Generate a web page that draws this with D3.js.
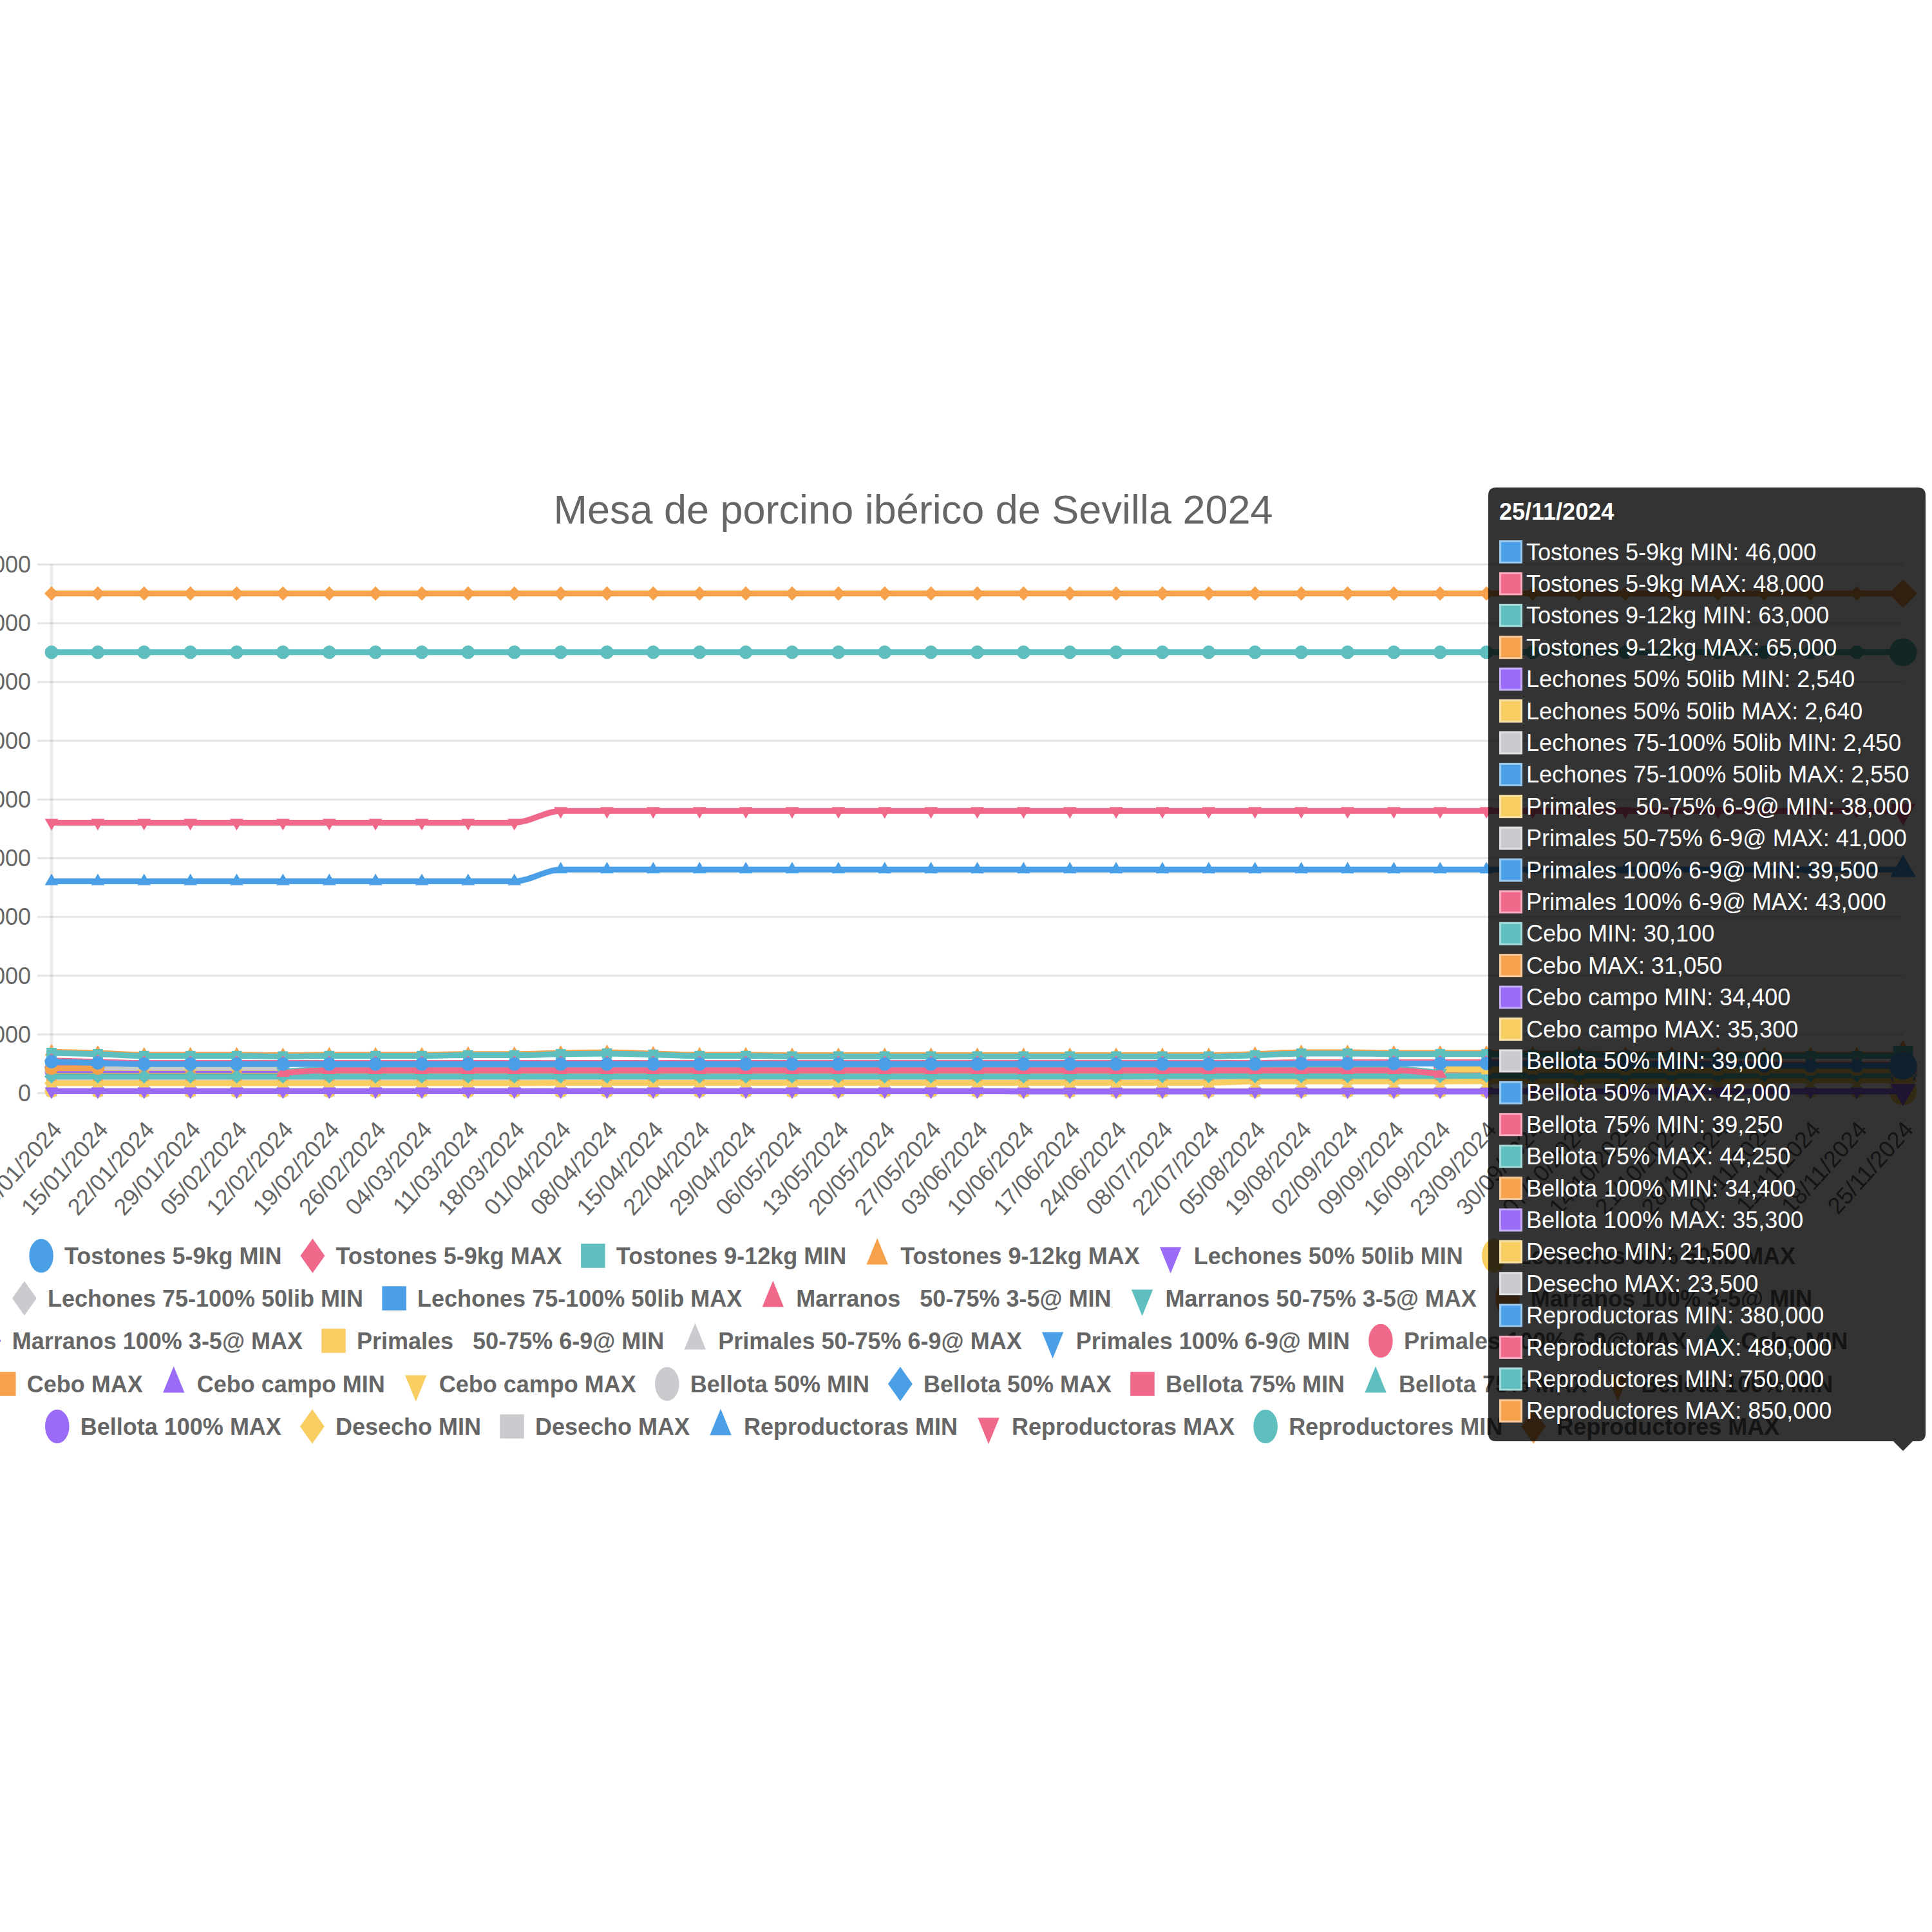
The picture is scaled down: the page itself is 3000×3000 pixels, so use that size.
<!DOCTYPE html>
<html>
<head>
<meta charset="utf-8">
<script src="https://cdn.jsdelivr.net/npm/d3@7"></script>
<style>
  html, body { margin: 0; padding: 0; background: #fff; }
  svg { display: block; font-family: "Liberation Sans", Arial, Helvetica, sans-serif; }
</style>
</head>
<body>
<div id="chart"></div>
<script>
const chartTitle = 'Mesa de porcino ibérico de Sevilla 2024';

const dates = [
  '08/01/2024', '15/01/2024', '22/01/2024', '29/01/2024', '05/02/2024', '12/02/2024', '19/02/2024', '26/02/2024',
  '04/03/2024', '11/03/2024', '18/03/2024', '01/04/2024', '08/04/2024', '15/04/2024', '22/04/2024', '29/04/2024',
  '06/05/2024', '13/05/2024', '20/05/2024', '27/05/2024', '03/06/2024', '10/06/2024', '17/06/2024', '24/06/2024',
  '08/07/2024', '22/07/2024', '05/08/2024', '19/08/2024', '02/09/2024', '09/09/2024', '16/09/2024', '23/09/2024',
  '30/09/2024', '07/10/2024', '14/10/2024', '21/10/2024', '28/10/2024', '04/11/2024', '11/11/2024', '18/11/2024',
  '25/11/2024'
];

const seriesNames = [
  'Tostones 5-9kg MIN', 'Tostones 5-9kg MAX', 'Tostones 9-12kg MIN', 'Tostones 9-12kg MAX',
  'Lechones 50% 50lib MIN', 'Lechones 50% 50lib MAX', 'Lechones 75-100% 50lib MIN', 'Lechones 75-100% 50lib MAX',
  'Marranos   50-75% 3-5@ MIN', 'Marranos 50-75% 3-5@ MAX', 'Marranos 100% 3-5@ MIN', 'Marranos 100% 3-5@ MAX',
  'Primales   50-75% 6-9@ MIN', 'Primales 50-75% 6-9@ MAX', 'Primales 100% 6-9@ MIN', 'Primales 100% 6-9@ MAX',
  'Cebo MIN', 'Cebo MAX', 'Cebo campo MIN', 'Cebo campo MAX',
  'Bellota 50% MIN', 'Bellota 50% MAX', 'Bellota 75% MIN', 'Bellota 75% MAX', 'Bellota 100% MIN', 'Bellota 100% MAX',
  'Desecho MIN', 'Desecho MAX', 'Reproductoras MIN', 'Reproductoras MAX', 'Reproductores MIN', 'Reproductores MAX'
];

// chart.js default palette, cycled per dataset
const palette = ['#4a9fe6', '#f0698a', '#5fbebe', '#f6a14b', '#9a6bf7', '#f8cd62', '#c9cbcf'];
const pointShapes = ['circle', 'rectRot', 'rect', 'triangle', 'triangleDown'];

const yTicks = [0, 100000, 200000, 300000, 400000, 500000, 600000, 700000, 800000, 900000];
const legendRowSizes = [6, 5, 6, 8, 7];

// values per series, one per date (null = no quote)
const tostones59Min = [
  53000, 51000, 49000, 49000, 49000, 49000, 49000, 49000, 49000, 49000,
  49000, 49000, 49000, 49000, 49000, 49000, 49000, 49000, 49000, 49000,
  49000, 49000, 49000, 49000, 49000, 49000, 49000, 50000, 50000, 50000,
  50000, 50000, 49000, 49000, 48000, 48000, 48000, 46000, 46000, 46000,
  46000];
const tostones59Max = [
  55000, 53000, 51000, 51000, 51000, 51000, 51000, 51000, 51000, 51000,
  51000, 51000, 51000, 51000, 51000, 51000, 51000, 51000, 51000, 51000,
  51000, 51000, 51000, 51000, 51000, 51000, 51000, 52000, 52000, 52000,
  52000, 52000, 51000, 51000, 50000, 50000, 50000, 48000, 48000, 48000,
  48000];
const tostones912Min = [
  68000, 66000, 63000, 63000, 63000, 62000, 63000, 63000, 63000, 64000,
  64000, 66000, 67000, 65000, 63000, 63000, 62000, 62000, 62000, 62000,
  62000, 62000, 62000, 62000, 62000, 62000, 64000, 67000, 67000, 66000,
  66000, 66000, 65000, 65000, 64000, 64000, 64000, 63000, 63000, 63000,
  63000];
const tostones912Max = [
  70000, 68000, 65000, 65000, 65000, 64000, 65000, 65000, 65000, 66000,
  66000, 68000, 69000, 67000, 65000, 65000, 64000, 64000, 64000, 64000,
  64000, 64000, 64000, 64000, 64000, 64000, 66000, 69000, 69000, 68000,
  68000, 68000, 67000, 67000, 66000, 66000, 66000, 65000, 65000, 65000,
  65000];
const lechones50Min = [
  2800, 2800, 2800, 2800, 2800, 2800, 2800, 2800, 2800, 2800,
  2800, 2700, 2700, 2700, 2700, 2700, 2700, 2700, 2700, 2700,
  2700, 2600, 2600, 2600, 2600, 2600, 2600, 2600, 2600, 2600,
  2600, 2600, 2600, 2540, 2540, 2540, 2540, 2540, 2540, 2540,
  2540];
const lechones50Max = [
  2900, 2900, 2900, 2900, 2900, 2900, 2900, 2900, 2900, 2900,
  2900, 2800, 2800, 2800, 2800, 2800, 2800, 2800, 2800, 2800,
  2800, 2700, 2700, 2700, 2700, 2700, 2700, 2700, 2700, 2700,
  2700, 2700, 2700, 2640, 2640, 2640, 2640, 2640, 2640, 2640,
  2640];
const lechones75Min = [
  2700, 2700, 2700, 2700, 2700, 2700, 2700, 2700, 2700, 2700,
  2700, 2600, 2600, 2600, 2600, 2600, 2600, 2600, 2600, 2600,
  2600, 2500, 2500, 2500, 2500, 2500, 2500, 2500, 2500, 2500,
  2500, 2500, 2500, 2450, 2450, 2450, 2450, 2450, 2450, 2450,
  2450];
const lechones75Max = [
  2800, 2800, 2800, 2800, 2800, 2800, 2800, 2800, 2800, 2800,
  2800, 2700, 2700, 2700, 2700, 2700, 2700, 2700, 2700, 2700,
  2700, 2600, 2600, 2600, 2600, 2600, 2600, 2600, 2600, 2600,
  2600, 2600, 2600, 2550, 2550, 2550, 2550, 2550, 2550, 2550,
  2550];
const marranos5075Min = [
  null, null, null, null, null, 34000, 38500, 38500, 38500, 38500,
  38500, 38500, 38500, 38500, 38500, 38500, 38500, 38500, 38500, 38500,
  38500, 38500, 38500, 38500, 38500, 38500, 38500, 38500, 38500, 38500,
  32000, null, null, null, null, null, null, null, null, null,
  null];
const marranos5075Max = [
  null, null, null, null, null, 36000, 40500, 40500, 40500, 40500,
  40500, 40500, 40500, 40500, 40500, 40500, 40500, 40500, 40500, 40500,
  40500, 40500, 40500, 40500, 40500, 40500, 40500, 40500, 40500, 40500,
  34000, null, null, null, null, null, null, null, null, null,
  null];
const marranos100Min = [
  42000, 42000, null, null, null, null, null, null, null, null,
  null, null, null, null, null, null, null, null, null, null,
  null, null, null, null, null, null, null, null, null, null,
  null, null, null, null, null, null, null, null, null, null,
  null];
const marranos100Max = [
  44000, 44000, null, null, null, null, null, null, null, null,
  null, null, null, null, null, null, null, null, null, null,
  null, null, null, null, null, null, null, null, null, null,
  null, null, null, null, null, null, null, null, null, null,
  null];
const primales5075Min = [
  null, null, null, null, null, null, null, null, null, null,
  null, null, null, null, null, null, null, null, null, null,
  null, null, null, null, null, null, null, null, null, null,
  40000, 40000, 40000, 39000, 39000, 39000, 38000, 38000, 38000, 38000,
  38000];
const primales5075Max = [
  null, null, null, null, null, null, null, null, null, null,
  null, null, null, null, null, null, null, null, null, null,
  null, null, null, null, null, null, null, null, null, null,
  43000, 43000, 43000, 42000, 42000, 42000, 41000, 41000, 41000, 41000,
  41000];
const primales100Min = [
  null, null, null, null, null, null, null, null, null, null,
  null, null, null, null, null, null, null, null, null, null,
  null, null, null, null, null, null, null, null, null, null,
  41500, 41500, 41500, 40500, 40500, 40500, 39500, 39500, 39500, 39500,
  39500];
const primales100Max = [
  null, null, null, null, null, null, null, null, null, null,
  null, null, null, null, null, null, null, null, null, null,
  null, null, null, null, null, null, null, null, null, null,
  45000, 45000, 45000, 44000, 44000, 44000, 43000, 43000, 43000, 43000,
  43000];
const ceboMin = [
  28000, 28000, 28000, 28000, 28000, 28000, 28000, 28000, 28000, 28000,
  28000, 28000, 28000, 28000, 28000, 28000, 28000, 28000, 28000, 28000,
  28000, 28000, 28000, 28000, 28500, 28500, 28500, 28500, 28500, 28500,
  28500, 29000, 29000, 29000, 29000, 29000, 29000, 30100, 30100, 30100,
  30100];
const ceboMax = [
  29000, 29000, 29000, 29000, 29000, 29000, 29000, 29000, 29000, 29000,
  29000, 29000, 29000, 29000, 29000, 29000, 29000, 29000, 29000, 29000,
  29000, 29000, 29000, 29000, 29500, 29500, 29500, 29500, 29500, 29500,
  29500, 30000, 30000, 30000, 30000, 30000, 30000, 31050, 31050, 31050,
  31050];
const ceboCampoMin = [
  32500, 32500, 32500, 32500, 32500, 32500, 32500, 32500, 32500, 32500,
  32500, 32500, 32500, 32500, 32500, 32500, 32500, 32500, 32500, 32500,
  32500, 32500, 32500, 32500, 32500, 32500, 32500, 32500, 32500, 32500,
  32500, 33500, 33500, 33500, 33500, 33500, 33500, 34400, 34400, 34400,
  34400];
const ceboCampoMax = [
  33500, 33500, 33500, 33500, 33500, 33500, 33500, 33500, 33500, 33500,
  33500, 33500, 33500, 33500, 33500, 33500, 33500, 33500, 33500, 33500,
  33500, 33500, 33500, 33500, 33500, 33500, 33500, 33500, 33500, 33500,
  33500, 34500, 34500, 34500, 34500, 34500, 34500, 35300, 35300, 35300,
  35300];
const bellota50Min = [
  40000, 40000, 40000, 40000, 40000, 40000, null, null, null, null,
  null, null, null, null, null, null, null, null, null, null,
  null, null, null, null, null, null, null, null, null, null,
  null, null, null, 39000, 39000, 39000, 39000, 39000, 39000, 39000,
  39000];
const bellota50Max = [
  43000, 43000, 43000, 43000, 43000, 43000, null, null, null, null,
  null, null, null, null, null, null, null, null, null, null,
  null, null, null, null, null, null, null, null, null, null,
  null, null, null, 42000, 42000, 42000, 42000, 42000, 42000, 42000,
  42000];
const bellota75Min = [
  40500, 40500, 40500, 40500, 40500, 40500, null, null, null, null,
  null, null, null, null, null, null, null, null, null, null,
  null, null, null, null, null, null, null, null, null, null,
  null, null, null, 39250, 39250, 39250, 39250, 39250, 39250, 39250,
  39250];
const bellota75Max = [
  45000, 45000, 45000, 45000, 45000, 45000, null, null, null, null,
  null, null, null, null, null, null, null, null, null, null,
  null, null, null, null, null, null, null, null, null, null,
  null, null, null, 44250, 44250, 44250, 44250, 44250, 44250, 44250,
  44250];
const bellota100Min = [
  35000, 35000, 35000, 35000, 35000, 35000, null, null, null, null,
  null, null, null, null, null, null, null, null, null, null,
  null, null, null, null, null, null, null, null, null, null,
  null, null, null, 34400, 34400, 34400, 34400, 34400, 34400, 34400,
  34400];
const bellota100Max = [
  36000, 36000, 36000, 36000, 36000, 36000, null, null, null, null,
  null, null, null, null, null, null, null, null, null, null,
  null, null, null, null, null, null, null, null, null, null,
  null, null, null, 35300, 35300, 35300, 35300, 35300, 35300, 35300,
  35300];
const desechoMin = [
  16500, 16500, 16500, 16500, 16500, 16500, 16500, 16500, 16500, 16500,
  16500, 17000, 17000, 17000, 17000, 17000, 17000, 17000, 17000, 17000,
  17000, 17000, 17000, 17000, 17000, 17000, 19500, 19500, 19500, 19500,
  19500, 20000, 20000, 20000, 20000, 20000, 20000, 21500, 21500, 21500,
  21500];
const desechoMax = [
  18500, 18500, 18500, 18500, 18500, 18500, 18500, 18500, 18500, 18500,
  18500, 19000, 19000, 19000, 19000, 19000, 19000, 19000, 19000, 19000,
  19000, 19000, 19000, 19000, 19000, 19000, 21500, 21500, 21500, 21500,
  21500, 22000, 22000, 22000, 22000, 22000, 22000, 23500, 23500, 23500,
  23500];
const reproductorasMin = [
  360000, 360000, 360000, 360000, 360000, 360000, 360000, 360000, 360000, 360000,
  360000, 380000, 380000, 380000, 380000, 380000, 380000, 380000, 380000, 380000,
  380000, 380000, 380000, 380000, 380000, 380000, 380000, 380000, 380000, 380000,
  380000, 380000, 380000, 380000, 380000, 380000, 380000, 380000, 380000, 380000,
  380000];
const reproductorasMax = [
  460000, 460000, 460000, 460000, 460000, 460000, 460000, 460000, 460000, 460000,
  460000, 480000, 480000, 480000, 480000, 480000, 480000, 480000, 480000, 480000,
  480000, 480000, 480000, 480000, 480000, 480000, 480000, 480000, 480000, 480000,
  480000, 480000, 480000, 480000, 480000, 480000, 480000, 480000, 480000, 480000,
  480000];
const reproductoresMin = [
  750000, 750000, 750000, 750000, 750000, 750000, 750000, 750000, 750000, 750000,
  750000, 750000, 750000, 750000, 750000, 750000, 750000, 750000, 750000, 750000,
  750000, 750000, 750000, 750000, 750000, 750000, 750000, 750000, 750000, 750000,
  750000, 750000, 750000, 750000, 750000, 750000, 750000, 750000, 750000, 750000,
  750000];
const reproductoresMax = [
  850000, 850000, 850000, 850000, 850000, 850000, 850000, 850000, 850000, 850000,
  850000, 850000, 850000, 850000, 850000, 850000, 850000, 850000, 850000, 850000,
  850000, 850000, 850000, 850000, 850000, 850000, 850000, 850000, 850000, 850000,
  850000, 850000, 850000, 850000, 850000, 850000, 850000, 850000, 850000, 850000,
  850000];

const seriesValues = [
  tostones59Min, tostones59Max, tostones912Min, tostones912Max,
  lechones50Min, lechones50Max, lechones75Min, lechones75Max,
  marranos5075Min, marranos5075Max, marranos100Min, marranos100Max,
  primales5075Min, primales5075Max, primales100Min, primales100Max,
  ceboMin, ceboMax, ceboCampoMin, ceboCampoMax,
  bellota50Min, bellota50Max, bellota75Min, bellota75Max, bellota100Min, bellota100Max,
  desechoMin, desechoMax, reproductorasMin, reproductorasMax, reproductoresMin, reproductoresMax
];

const hoverIndex = dates.length - 1;

const series = seriesNames.map((name, i) => ({
  name,
  index: i,
  color: palette[i % palette.length],
  shape: pointShapes[i % pointShapes.length],
  values: seriesValues[i]
}));

series.forEach(s => {
  if (s.values.length !== dates.length) console.warn('[chart] length mismatch', s.name, s.values.length);
});

// marker outline, chart.js style: r = vertical radius, hw = half width (legend squeezes it)
function markerPath(shape, r, hw) {
  const w = hw == null ? r : hw;
  const s60 = Math.sin(Math.PI * 2 / 3);
  switch (shape) {
    case 'circle':
      return `M${-w},0A${w},${r} 0 1,0 ${w},0A${w},${r} 0 1,0 ${-w},0Z`;
    case 'rectRot':
      return `M${-w},0L0,${-r}L${w},0L0,${r}Z`;
    case 'rect': {
      const s = r * Math.SQRT1_2;
      const sw = hw == null ? s : hw;
      return `M${-sw},${-s}H${sw}V${s}H${-sw}Z`;
    }
    case 'triangle':
      return `M0,${-r}L${w * s60},${r / 2}L${-w * s60},${r / 2}Z`;
    case 'triangleDown':
      return `M0,${r}L${w * s60},${-r / 2}L${-w * s60},${-r / 2}Z`;
  }
  return '';
}

const svgWidth = 3000;
const svgHeight = 3000;
const plot = { left: 80, right: 2955, top: 876, bottom: 1697 };
const textColor = '#666';
const fontSize = 36;

const svg = d3.select('#chart').append('svg')
  .attr('width', svgWidth)
  .attr('height', svgHeight)
  .attr('viewBox', `0 0 ${svgWidth} ${svgHeight}`);

svg.append('rect').attr('width', svgWidth).attr('height', svgHeight).attr('fill', '#fff');

const xScale = d3.scalePoint().domain(dates).range([plot.left, plot.right]);
const yScale = d3.scaleLinear().domain([0, 900000]).range([plot.bottom, plot.top]);

// title
svg.append('text')
  .attr('x', 1418)
  .attr('y', 813)
  .attr('text-anchor', 'middle')
  .attr('font-size', 63)
  .attr('fill', textColor)
  .text(chartTitle);

// y axis with full-width grid
const tickLen = 22;
const yAxisG = svg.append('g').attr('transform', `translate(${plot.left - tickLen},0)`);
yAxisG.call(
  d3.axisLeft(yScale)
    .tickValues(yTicks)
    .tickFormat(d3.format(','))
    .tickSize(-(plot.right - plot.left + tickLen))
    .tickPadding(10)
);
yAxisG.select('.domain').remove();
yAxisG.selectAll('.tick line').attr('stroke', 'rgba(0,0,0,0.1)').attr('stroke-width', 3);
yAxisG.selectAll('.tick text')
  .attr('font-size', fontSize)
  .attr('font-family', null)
  .attr('fill', textColor)
  .attr('dy', null)
  .attr('dominant-baseline', 'central');

svg.append('line')
  .attr('x1', plot.left).attr('x2', plot.left)
  .attr('y1', plot.top).attr('y2', plot.bottom)
  .attr('stroke', 'rgba(0,0,0,0.08)')
  .attr('stroke-width', 5);

// x axis, rotated labels
const xAxisG = svg.append('g').attr('transform', `translate(0,${plot.bottom})`);
xAxisG.call(d3.axisBottom(xScale).tickSize(0));
xAxisG.select('.domain').remove();
xAxisG.selectAll('.tick text')
  .attr('font-size', fontSize)
  .attr('font-family', null)
  .attr('fill', textColor)
  .attr('x', 0).attr('y', 0).attr('dy', null)
  .attr('text-anchor', 'end')
  .attr('dominant-baseline', 'central')
  .attr('transform', 'translate(8,50) rotate(-48)');

// datasets, drawn last-to-first so the first one sits on top
const lineGen = d3.line()
  .defined(d => d.v != null)
  .x(d => xScale(d.date))
  .y(d => yScale(d.v))
  .curve(d3.curveMonotoneX);

const dataG = svg.append('g');
const seriesG = dataG.selectAll('g.series')
  .data(series.slice().reverse())
  .join('g')
  .attr('class', 'series');

seriesG.append('path')
  .attr('d', s => lineGen(s.values.map((v, i) => ({ v, date: dates[i] }))))
  .attr('fill', 'none')
  .attr('stroke', s => s.color)
  .attr('stroke-width', 9)
  .attr('stroke-linejoin', 'round');

seriesG.each(function (s) {
  const pts = s.values
    .map((v, i) => ({ v, i, date: dates[i] }))
    .filter(d => d.v != null);
  d3.select(this).selectAll('path.pt')
    .data(pts)
    .join('path')
    .attr('class', 'pt')
    .attr('transform', d => `translate(${xScale(d.date)},${yScale(d.v)})`)
    .attr('d', d => markerPath(s.shape, d.i === hoverIndex ? 20 : 9))
    .attr('fill', s.color)
    .attr('stroke', s.color)
    .attr('stroke-width', 3);
});

// legend, rows centred like chart.js
const legendCenter = 1417;
const legendRowY = [1950, 2016, 2082, 2149, 2215];
const boxW = 36;
const markerR = 25.5;
const legendGap = 30;
const legendG = svg.append('g');
let cursor = 0;
legendRowSizes.forEach((count, row) => {
  const items = series.slice(cursor, cursor + count);
  cursor += count;
  const rowG = legendG.append('g');
  const itemG = rowG.selectAll('g').data(items).join('g');
  itemG.append('path')
    .attr('d', d => markerPath(d.shape, markerR, boxW / 2))
    .attr('fill', d => d.color)
    .attr('stroke', d => d.color)
    .attr('stroke-width', 1.5);
  itemG.append('text')
    .attr('x', boxW / 2 + fontSize / 2)
    .attr('dominant-baseline', 'central')
    .attr('font-size', fontSize)
    .attr('font-weight', 'bold')
    .attr('fill', textColor)
    .style('white-space', 'pre')
    .text(d => d.name);
  const widths = [];
  itemG.each(function () {
    widths.push(boxW + fontSize / 2 + d3.select(this).select('text').node().getComputedTextLength());
  });
  const rowWidth = d3.sum(widths) + legendGap * (widths.length - 1);
  let xPos = legendCenter - rowWidth / 2;
  itemG.each(function (d, i) {
    d3.select(this).attr('transform', `translate(${xPos + boxW / 2},${legendRowY[row]})`);
    xPos += widths[i] + legendGap;
  });
});

// tooltip for the hovered date
const tip = { x: 2311, y: 757, w: 679, h: 1481 };
const tipItems = series.filter(s => s.values[hoverIndex] != null);
const tipG = svg.append('g');
tipG.append('path')
  .attr('d', () => {
    const p = d3.path();
    const r = 12, x0 = tip.x, y0 = tip.y, x1 = tip.x + tip.w, y1 = tip.y + tip.h;
    const cx = xScale(dates[hoverIndex]);
    p.moveTo(x0 + r, y0);
    p.lineTo(x1 - r, y0);
    p.quadraticCurveTo(x1, y0, x1, y0 + r);
    p.lineTo(x1, y1 - r);
    p.quadraticCurveTo(x1, y1, x1 - r, y1);
    p.lineTo(cx + 15, y1);
    p.lineTo(cx, y1 + 15);
    p.lineTo(cx - 15, y1);
    p.lineTo(x0 + r, y1);
    p.quadraticCurveTo(x0, y1, x0, y1 - r);
    p.lineTo(x0, y0 + r);
    p.quadraticCurveTo(x0, y0, x0 + r, y0);
    p.closePath();
    return p.toString();
  })
  .attr('fill', 'rgba(0,0,0,0.8)');

tipG.append('text')
  .attr('x', 2328)
  .attr('y', 794)
  .attr('dominant-baseline', 'central')
  .attr('font-size', fontSize)
  .attr('font-weight', 'bold')
  .attr('fill', '#fff')
  .text(dates[hoverIndex]);

const fmt = d3.format(',');
const tipRow = tipG.selectAll('g.row')
  .data(tipItems)
  .join('g')
  .attr('class', 'row')
  .attr('transform', (d, i) => `translate(2328,${857 + i * 49.4})`);

tipRow.append('rect')
  .attr('x', 1.5).attr('y', -16.5)
  .attr('width', 33).attr('height', 33)
  .attr('fill', d => d.color)
  .attr('stroke', d => d3.interpolateRgb(d.color, '#fff')(0.45))
  .attr('stroke-width', 3);

tipRow.append('text')
  .attr('x', 42)
  .attr('dominant-baseline', 'central')
  .attr('font-size', fontSize)
  .attr('fill', '#fff')
  .style('white-space', 'pre')
  .text(d => `${d.name}: ${fmt(d.values[hoverIndex])}`);
</script>
</body>
</html>
